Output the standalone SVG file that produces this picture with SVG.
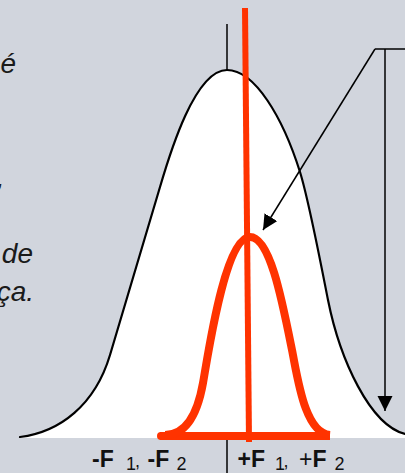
<svg xmlns="http://www.w3.org/2000/svg" width="405" height="473" viewBox="0 0 405 473">
<style>
.bg{fill:#D1D5DD}
.side{font-family:"Liberation Sans",Arial,sans-serif;font-style:italic;font-size:28px;fill:#1a1a1a;text-anchor:end}
.lbl{font-family:"Liberation Sans",Arial,sans-serif;fill:#111}
.big{font-size:23px;font-weight:bold}
.sub{font-size:18px}
.blk{fill:none;stroke:#000;stroke-width:2.2;stroke-linecap:round}
.thin{fill:none;stroke:#000;stroke-width:1.5}
.red{fill:none;stroke:#FF3300;stroke-width:8;stroke-linejoin:round}
</style>
<defs>
<marker id="ah" markerUnits="userSpaceOnUse" markerWidth="16" markerHeight="16" refX="15" refY="7.5" orient="auto">
<path d="M0,0 L15,7.5 L0,15 z" fill="#000"/>
</marker>
</defs>
<rect class="bg" x="0" y="0" width="405" height="473"/>
<g id="side-text">
<text class="side" x="16" y="73">é</text>
<text class="side" x="4.5" y="187">,</text>
<text class="side" x="33" y="263">de</text>
<text class="side" x="34" y="301">ça.</text>
</g>
<g id="wide-curve">
<path d="M20,437 C60,432 95,405 110,355 C125,305 145,237 160,187 C170,153 195,70 227,70 C255,70 283,118 300,172 C309,201 322,270 328,300 C340,360 370,425 405,434 L405,438 L20,438 Z" fill="#fff"/>
<path class="blk" d="M20,437 C60,432 95,405 110,355 C125,305 145,237 160,187 C170,153 195,70 227,70 C255,70 283,118 300,172 C309,201 322,270 328,300 C340,360 370,425 405,434"/>
<line class="thin" x1="227" y1="24" x2="227" y2="70"/>
</g>
<g id="axis-tick">
<line class="thin" x1="227" y1="438" x2="227" y2="473"/>
</g>
<g id="narrow-curve">
<line x1="245" y1="8" x2="249" y2="442" stroke="#FF3300" stroke-width="6"/>
<line x1="160" y1="436" x2="330" y2="436" stroke="#FF3300" stroke-width="8"/>
<circle cx="161" cy="436" r="4" fill="#FF3300"/>
<path class="red" d="M165,435 C188,435 198,411 203,383 C208,355 225,237 250,237 C270,237 282,300 292,350 C298,380 305,433 330,435"/>
</g>
<g id="labels">
<text class="lbl big" x="92" y="467">-F</text>
<text class="lbl sub" x="126" y="470">1</text>
<text class="lbl sub" x="135" y="467">,</text>
<text class="lbl big" x="147.5" y="467">-F</text>
<text class="lbl sub" x="176.5" y="470">2</text>
<text class="lbl big" x="237.5" y="467">+F</text>
<text class="lbl sub" x="275" y="470">1</text>
<text class="lbl sub" x="283.5" y="467">,</text>
<text class="lbl" x="299" y="467" font-size="23">+</text>
<text class="lbl big" x="312.4" y="467">F</text>
<text class="lbl sub" x="334.5" y="470">2</text>
</g>
<g id="connectors">
<line class="thin" x1="375" y1="49" x2="405" y2="49"/>
<line class="thin" x1="375" y1="49" x2="263" y2="230" marker-end="url(#ah)"/>
<line class="thin" x1="385" y1="49" x2="385" y2="411" marker-end="url(#ah)"/>
</g>
</svg>
